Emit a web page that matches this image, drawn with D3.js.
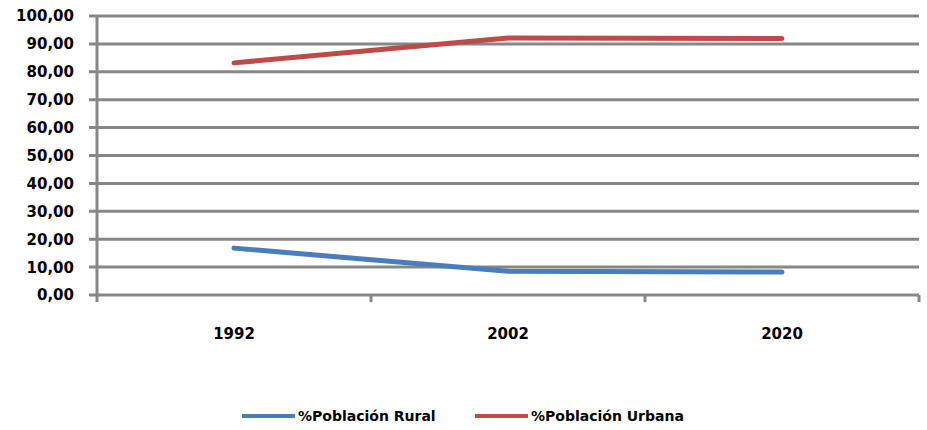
<!DOCTYPE html>
<html>
<head>
<meta charset="utf-8">
<script src="https://cdn.jsdelivr.net/npm/d3@7"></script>
<style>
  body { margin: 0; background: white; }
  text { font-family: "DejaVu Sans", Verdana, sans-serif; font-weight: bold; fill: #000; }
</style>
</head>
<body>
<div id="chart"></div>
<script>
const years = ["1992", "2002", "2020"]
const rural = [16.8, 8.5, 8.2]
const urbana = [83.2, 92.1, 91.9]
const yTicks = [0, 10, 20, 30, 40, 50, 60, 70, 80, 90, 100]

const series = [
	{ name: "%Población Rural", color: "#4a7ebb", values: rural },
	{ name: "%Población Urbana", color: "#be4b48", values: urbana }
]

const width = 927, height = 430
const margin = { left: 97, right: 8, top: 16, bottom: 135 }

const svg = d3.select("#chart").append("svg")
	.attr("width", width)
	.attr("height", height)

const x = d3.scaleBand()
	.domain(years)
	.range([margin.left, width - margin.right])

const y = d3.scaleLinear()
	.domain([0, 100])
	.range([height - margin.bottom, margin.top])

const grid = "#878787"

// gridlines + y tick marks
svg.append("g")
	.selectAll("line")
	.data(yTicks)
	.enter()
	.append("line")
	.attr("x1", margin.left - 8)
	.attr("x2", width - margin.right)
	.attr("y1", d => y(d))
	.attr("y2", d => y(d))
	.attr("stroke", grid)
	.attr("stroke-width", 3)

// y axis line
svg.append("line")
	.attr("x1", margin.left).attr("x2", margin.left)
	.attr("y1", y(100)).attr("y2", y(0) + 7)
	.attr("stroke", grid)
	.attr("stroke-width", 3)

// x tick marks at band edges
const edges = years.map(d => x(d)).concat([x(years[years.length - 1]) + x.bandwidth()])
svg.append("g")
	.selectAll("line")
	.data(edges.slice(1))
	.enter()
	.append("line")
	.attr("x1", d => d).attr("x2", d => d)
	.attr("y1", y(0)).attr("y2", y(0) + 7)
	.attr("stroke", grid)
	.attr("stroke-width", 3)

// y labels
svg.append("g")
	.selectAll("text")
	.data(yTicks)
	.enter()
	.append("text")
	.attr("x", 74)
	.attr("y", d => y(d))
	.attr("dy", "0.36em")
	.attr("text-anchor", "end")
	.style("font-size", "15px")
	.text(d => d3.format(".2f")(d).replace(".", ","))

// x labels
svg.append("g")
	.selectAll("text")
	.data(years)
	.enter()
	.append("text")
	.attr("x", d => x(d) + x.bandwidth() / 2)
	.attr("y", 339)
	.attr("text-anchor", "middle")
	.style("font-size", "15px")
	.text(d => d)

// lines
const lineFn = d3.line()
	.x((d, i) => x(years[i]) + x.bandwidth() / 2)
	.y(d => y(d))

svg.append("g")
	.selectAll("path")
	.data(series)
	.enter()
	.append("path")
	.attr("d", d => lineFn(d.values))
	.attr("fill", "none")
	.attr("stroke", d => d.color)
	.attr("stroke-width", 5)
	.attr("stroke-linecap", "round")
	.attr("stroke-linejoin", "round")

// legend
const legendX = [242, 475]
const legend = svg.append("g")
	.selectAll("g")
	.data(series)
	.enter()
	.append("g")
	.attr("transform", (d, i) => `translate(${legendX[i]},416)`)

legend.append("line")
	.attr("x1", 0).attr("x2", 53)
	.attr("stroke", d => d.color)
	.attr("stroke-width", 4)

legend.append("text")
	.attr("x", 56)
	.attr("dy", "0.36em")
	.style("font-size", "14px")
	.text(d => d.name)
</script>
</body>
</html>
